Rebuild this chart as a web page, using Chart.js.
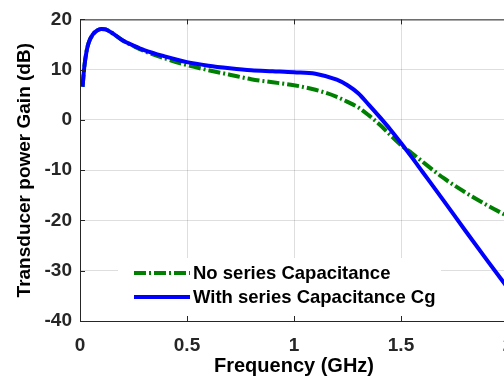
<!DOCTYPE html>
<html>
<head>
<meta charset="utf-8">
<script src="https://cdn.jsdelivr.net/npm/chart.js@4/dist/chart.umd.min.js"></script>
<style>
  html, body { margin: 0; padding: 0; background: #fff; overflow: hidden; width: 504px; height: 382px; }
  #wrap { width: 540px; height: 382px; }
</style>
</head>
<body>
<div id="wrap"><canvas id="c" width="540" height="382"></canvas></div>
<script>
// Frequency samples (GHz)
const freq = [0.012, 0.02, 0.03, 0.04, 0.06, 0.08, 0.1, 0.12, 0.15, 0.2, 0.25, 0.3, 0.4, 0.5, 0.6, 0.7, 0.8, 0.9, 1.0, 1.1, 1.2, 1.25, 1.3, 1.35, 1.4, 1.45, 1.5, 1.55, 1.6, 1.7, 1.8, 1.9, 2.0];
// Transducer power gain (dB) without series capacitance
const gainNoCap = [6.6, 10.5, 13.5, 15.3, 17.0, 17.8, 18.1, 18.0, 17.3, 15.8, 14.7, 13.7, 12.2, 10.9, 9.9, 9.0, 8.1, 7.5, 6.9, 6.0, 4.6, 3.6, 2.5, 0.9, -0.9, -3.0, -5.0, -6.6, -8.3, -11.6, -14.4, -16.9, -19.2];
// Transducer power gain (dB) with series capacitance Cg
const gainWithCap = [6.6, 10.5, 13.5, 15.3, 17.0, 17.8, 18.1, 18.0, 17.3, 15.8, 14.8, 13.9, 12.6, 11.5, 10.8, 10.3, 9.9, 9.7, 9.5, 9.2, 8.0, 6.9, 5.3, 3.0, 0.6, -1.9, -4.6, -7.4, -10.3, -16.1, -22.0, -27.8, -33.5];
const seriesLabels = ['No series Capacitance', 'With series Capacitance Cg'];
const xTicks = [0, 0.5, 1, 1.5, 2];
const yTicks = [-40, -30, -20, -10, 0, 10, 20];

const FONT = '"Liberation Sans", Arial, Helvetica, sans-serif';
const GREEN = '#008000';
const BLUE = '#0000ff';
const DASH = [12, 3, 2, 3];

const insideLegend = {
  id: 'insideLegend',
  afterDatasetsDraw(chart) {
    const ctx = chart.ctx;
    const x0 = 118, y0 = 258, x1 = 441, y1 = chart.chartArea.bottom;
    ctx.save();
    ctx.fillStyle = '#ffffff';
    ctx.fillRect(x0, y0, x1 - x0, y1 - y0);
    const rows = [
      { y: 273, color: GREEN, dash: DASH, text: chart.data.datasets[0].label },
      { y: 297, color: BLUE, dash: [], text: chart.data.datasets[1].label }
    ];
    rows.forEach(r => {
      ctx.beginPath();
      ctx.setLineDash(r.dash);
      ctx.strokeStyle = r.color;
      ctx.lineWidth = 4;
      ctx.moveTo(134, r.y);
      ctx.lineTo(190, r.y);
      ctx.stroke();
      ctx.setLineDash([]);
      ctx.fillStyle = '#000000';
      ctx.font = 'bold 18.5px ' + FONT;
      ctx.textBaseline = 'middle';
      ctx.textAlign = 'left';
      ctx.fillText(r.text, 193, r.y + 1);
    });
    ctx.restore();
  },
  afterDraw(chart) {
    const ctx = chart.ctx;
    const a = chart.chartArea;
    const xs = chart.scales.x, ys = chart.scales.y;
    ctx.save();
    ctx.strokeStyle = '#262626';
    ctx.lineWidth = 1;
    ctx.beginPath();
    ctx.moveTo(a.left, a.top + 0.5); ctx.lineTo(a.right, a.top + 0.5);
    ctx.moveTo(a.left + 0.5, a.top); ctx.lineTo(a.left + 0.5, a.bottom);
    ctx.moveTo(a.left, a.bottom + 0.5); ctx.lineTo(a.right, a.bottom + 0.5);
    xTicks.forEach(v => {
      const px = Math.round(xs.getPixelForValue(v)) + 0.5;
      ctx.moveTo(px, a.bottom); ctx.lineTo(px, a.bottom - 5);
      ctx.moveTo(px, a.top); ctx.lineTo(px, a.top + 5);
    });
    yTicks.forEach(v => {
      const py = Math.round(ys.getPixelForValue(v)) + 0.5;
      ctx.moveTo(a.left, py); ctx.lineTo(a.left + 5, py);
    });
    ctx.stroke();
    ctx.restore();
  }
};

new Chart(document.getElementById('c'), {
  type: 'line',
  data: {
    datasets: [
      {
        label: seriesLabels[0],
        data: freq.map((f, i) => ({ x: f, y: gainNoCap[i] })),
        borderColor: GREEN,
        borderWidth: 4,
        borderDash: DASH,
        pointRadius: 0,
        cubicInterpolationMode: 'monotone',
        fill: false,
        order: 2
      },
      {
        label: seriesLabels[1],
        data: freq.map((f, i) => ({ x: f, y: gainWithCap[i] })),
        borderColor: BLUE,
        borderWidth: 4,
        pointRadius: 0,
        cubicInterpolationMode: 'monotone',
        fill: false,
        order: 1
      }
    ]
  },
  options: {
    responsive: false,
    animation: false,
    events: [],
    layout: { padding: { top: 15, right: 32, left: 0, bottom: 0 } },
    plugins: { legend: { display: false }, tooltip: { enabled: false } },
    scales: {
      x: {
        type: 'linear',
        min: 0, max: 2,
        afterFit(s) { s.height = 61; },
        afterBuildTicks(s) { s.ticks = xTicks.map(v => ({ value: v })); },
        ticks: {
          padding: 13,
          color: '#262626',
          font: { family: FONT, size: 19, weight: 'bold' },
          callback: v => String(v)
        },
        grid: { color: 'rgba(0,0,0,0.13)', lineWidth: 1, drawTicks: false },
        border: { display: false },
        title: {
          display: true,
          text: 'Frequency (GHz)',
          color: '#000',
          font: { family: FONT, size: 20, weight: 'bold' },
          padding: { top: 0, bottom: 4 }
        }
      },
      y: {
        type: 'linear',
        min: -40, max: 20,
        afterFit(s) { s.width = 80; },
        afterBuildTicks(s) { s.ticks = yTicks.map(v => ({ value: v })); },
        ticks: {
          padding: 8,
          color: '#262626',
          font: { family: FONT, size: 19, weight: 'bold' },
          callback: v => String(v)
        },
        grid: { color: 'rgba(0,0,0,0.13)', lineWidth: 1, drawTicks: false },
        border: { display: false },
        title: {
          display: true,
          text: 'Transducer power Gain (dB)',
          color: '#000',
          font: { family: FONT, size: 19, weight: 'bold' },
          padding: { top: 13, bottom: 0 }
        }
      }
    }
  },
  plugins: [insideLegend]
});
</script>
</body>
</html>
